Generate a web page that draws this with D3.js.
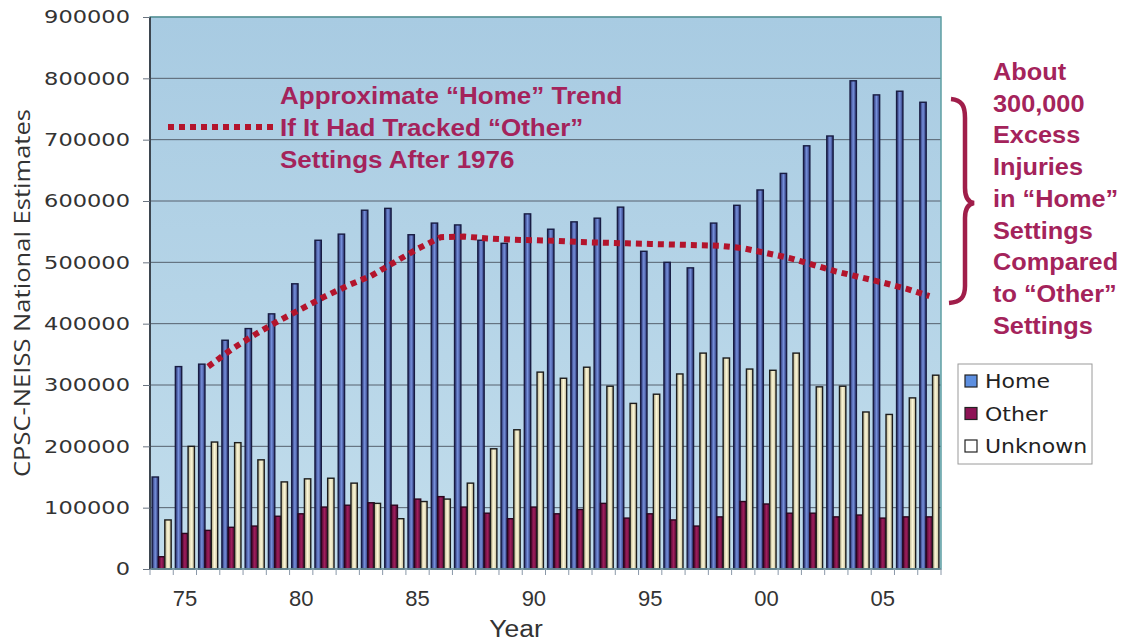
<!DOCTYPE html>
<html>
<head>
<meta charset="utf-8">
<script src="https://cdn.jsdelivr.net/npm/d3@7"></script>
<style>
  body { margin: 0; background: #fff; }
</style>
</head>
<body>
<div class="chart"></div>
<script>
// Data
var years = [1974, 1975, 1976, 1977, 1978, 1979, 1980, 1981, 1982, 1983, 1984,
  1985, 1986, 1987, 1988, 1989, 1990, 1991, 1992, 1993, 1994, 1995, 1996, 1997,
  1998, 1999, 2000, 2001, 2002, 2003, 2004, 2005, 2006, 2007];
var home = [150000, 330000, 334000, 373000, 392000, 416000, 465000, 536000, 546000,
  585000, 588000, 545000, 564000, 561000, 536000, 531000, 579000, 554000, 566000,
  572000, 590000, 518000, 500000, 491000, 564000, 593000, 618000, 645000, 690000,
  706000, 796000, 773000, 779000, 761000];
var other = [20000, 58000, 63000, 68000, 70000, 86000, 90000, 101000, 104000, 108000,
  104000, 114000, 118000, 101000, 91000, 82000, 101000, 90000, 97000, 107000, 83000,
  90000, 80000, 70000, 85000, 110000, 106000, 91000, 91000, 85000, 88000, 83000,
  85000, 85000];
var unknown = [80000, 200000, 207000, 206000, 178000, 142000, 147000, 148000, 140000,
  107000, 82000, 110000, 114000, 140000, 196000, 227000, 321000, 311000, 329000,
  298000, 270000, 285000, 318000, 352000, 344000, 326000, 324000, 352000, 297000,
  298000, 256000, 252000, 279000, 316000];
var trendYears = [1976, 1977, 1978, 1979, 1980, 1981, 1982, 1983, 1984, 1985, 1986,
  1987, 1988, 1989, 1990, 1991, 1992, 1993, 1994, 1995, 1996, 1997, 1998, 1999,
  2000, 2001, 2002, 2003, 2004, 2005, 2006, 2007];
var trend = [330000, 358000, 382000, 404000, 424000, 444000, 462000, 478000, 500000,
  522000, 541000, 542000, 539000, 537000, 536000, 535000, 533000, 532000, 531000,
  530000, 529000, 528000, 527000, 523000, 515000, 507000, 496000, 485000, 476000,
  467000, 457000, 445000];
var yTicks = [0, 100000, 200000, 300000, 400000, 500000, 600000, 700000, 800000, 900000];
var xLabelYears = [1975, 1980, 1985, 1990, 1995, 2000, 2005];
var seriesNames = ["Home", "Other", "Unknown"];
var trendNote = ["Approximate \u201cHome\u201d Trend", "If It Had Tracked \u201cOther\u201d", "Settings After 1976"];
var sideNote = ["About", "300,000", "Excess", "Injuries", "in \u201cHome\u201d", "Settings",
  "Compared", "to \u201cOther\u201d", "Settings"];

var svgWidth = 1123;
var svgHeight = 642;
var plot = { left: 150, right: 941, top: 17, bottom: 569 };

var svg = d3.select(".chart")
  .append("svg")
  .attr("width", svgWidth)
  .attr("height", svgHeight);

// stretch text horizontally, the source picture is a bit wide
function widen(sel, k) {
  sel.each(function() {
    var len = this.getComputedTextLength();
    d3.select(this).attr("textLength", len * k).attr("lengthAdjust", "spacingAndGlyphs");
  });
}

var defs = svg.append("defs");
var bg = defs.append("linearGradient").attr("id", "bg").attr("x1", 0).attr("y1", 0).attr("x2", 0).attr("y2", 1);
bg.append("stop").attr("offset", "0%").attr("stop-color", "#a8cbe2");
bg.append("stop").attr("offset", "100%").attr("stop-color", "#c2ddec");

var barColors = {
  Home: ["#252d68", "#7690dc", "#283270"],
  Other: ["#46082e", "#a01e5d", "#4a0930"],
  Unknown: ["#b3ab86", "#fcf7d8", "#c2ba96"]
};
var barStroke = { Home: "#181c42", Other: "#2a061e", Unknown: "#1c1c1c" };
seriesNames.forEach(function(s) {
  var g = defs.append("linearGradient").attr("id", "g" + s);
  g.append("stop").attr("offset", "0%").attr("stop-color", barColors[s][0]);
  g.append("stop").attr("offset", "50%").attr("stop-color", barColors[s][1]);
  g.append("stop").attr("offset", "100%").attr("stop-color", barColors[s][2]);
});

// scales
var xAll = d3.scaleBand().domain(years).range([plot.left, plot.right]);
var x0 = d3.scaleBand().domain(years).range([plot.left, plot.right])
  .paddingInner(0.18).paddingOuter(0.09);
var x1 = d3.scaleBand().domain(seriesNames).range([0, x0.bandwidth()]);
var y = d3.scaleLinear().domain([0, 900000]).range([plot.bottom, plot.top]);

// plot background
svg.append("rect")
  .attr("x", plot.left).attr("y", plot.top)
  .attr("width", plot.right - plot.left).attr("height", plot.bottom - plot.top)
  .attr("fill", "url(#bg)");

// gridlines
svg.append("g").selectAll("line")
  .data(yTicks.filter(d => d > 0))
  .enter().append("line")
  .attr("x1", plot.left).attr("x2", plot.right)
  .attr("y1", d => y(d)).attr("y2", d => y(d))
  .attr("stroke", "#56616e").attr("stroke-width", 1);

// bars
var rows = years.map(function(yr, i) {
  return { year: yr, Home: home[i], Other: other[i], Unknown: unknown[i] };
});
var groups = svg.append("g").selectAll("g")
  .data(rows)
  .enter().append("g")
  .attr("transform", d => `translate(${x0(d.year)},0)`);
groups.selectAll("rect")
  .data(d => seriesNames.map(s => ({ key: s, value: d[s] })))
  .enter().append("rect")
  .attr("x", d => x1(d.key))
  .attr("y", d => y(d.value))
  .attr("width", x1.bandwidth())
  .attr("height", d => y(0) - y(d.value))
  .attr("fill", d => `url(#g${d.key})`)
  .attr("stroke", d => barStroke[d.key])
  .attr("stroke-width", 1.4);

// plot frame
svg.append("rect")
  .attr("x", plot.left).attr("y", plot.top)
  .attr("width", plot.right - plot.left).attr("height", plot.bottom - plot.top)
  .attr("fill", "none").attr("stroke", "#5e9fa2").attr("stroke-width", 1.5);
svg.append("line")
  .attr("x1", plot.left).attr("x2", plot.left)
  .attr("y1", plot.top).attr("y2", plot.bottom)
  .attr("stroke", "#3d4650").attr("stroke-width", 2);
svg.append("line")
  .attr("x1", plot.left).attr("x2", plot.right)
  .attr("y1", plot.bottom).attr("y2", plot.bottom)
  .attr("stroke", "#6f7f90").attr("stroke-width", 1.2);

// y axis
var yAxis = svg.append("g")
  .attr("transform", `translate(${plot.left},0)`)
  .call(d3.axisLeft(y).tickValues(yTicks).tickSize(7).tickPadding(13).tickFormat(d3.format("d")));
yAxis.select(".domain").remove();
yAxis.selectAll("line").attr("stroke", "#6a7480");
yAxis.selectAll("text")
  .attr("font-family", "DejaVu Sans").attr("font-size", "18px").attr("fill", "#333");
widen(yAxis.selectAll("text"), 1.25);

// x axis: ticks on category boundaries, labels every five years
svg.append("g").selectAll("line")
  .data(years.concat(["end"]))
  .enter().append("line")
  .attr("x1", d => d === "end" ? plot.right : xAll(d))
  .attr("x2", d => d === "end" ? plot.right : xAll(d))
  .attr("y1", plot.bottom).attr("y2", plot.bottom + 6)
  .attr("stroke", "#8a98a8");
var xAxis = svg.append("g")
  .attr("transform", `translate(0,${plot.bottom})`)
  .call(d3.axisBottom(xAll).tickValues(xLabelYears).tickSize(0).tickPadding(21)
    .tickFormat(d => String(d).slice(2)));
xAxis.select(".domain").remove();
xAxis.selectAll("text")
  .attr("font-family", "Liberation Sans").attr("font-size", "22px").attr("fill", "#333");

// axis titles
svg.append("text")
  .attr("transform", "translate(22,293) rotate(-90)")
  .attr("text-anchor", "middle")
  .attr("dominant-baseline", "central")
  .attr("font-family", "Open Sans").attr("font-size", "21px").attr("fill", "#333")
  .attr("textLength", 368).attr("lengthAdjust", "spacingAndGlyphs")
  .text("CPSC-NEISS National Estimates");
var yearTitle = svg.append("text")
  .attr("x", 516).attr("y", 637)
  .attr("text-anchor", "middle")
  .attr("font-family", "Liberation Sans").attr("font-size", "23px").attr("fill", "#333")
  .text("Year");
widen(yearTitle, 1.15);

// trend line
var trendLine = d3.line()
  .x(d => xAll(d.year) + xAll.bandwidth() / 2)
  .y(d => y(d.value));
var trendPts = trendYears.map((yr, i) => ({ year: yr, value: trend[i] }));
svg.append("path")
  .datum(trendPts)
  .attr("d", trendLine)
  .attr("fill", "none")
  .attr("stroke", "#b3142c")
  .attr("stroke-width", 6)
  .attr("stroke-dasharray", "6,5");

// trend note with its dotted sample
svg.append("line")
  .attr("x1", 168).attr("x2", 273).attr("y1", 127).attr("y2", 127)
  .attr("stroke", "#b3142c").attr("stroke-width", 6).attr("stroke-dasharray", "6,5");
var noteText = svg.append("g").selectAll("text")
  .data(trendNote)
  .enter().append("text")
  .attr("x", 280)
  .attr("y", (d, i) => 104 + i * 32)
  .attr("font-family", "Liberation Sans").attr("font-weight", "bold")
  .attr("font-size", "23px").attr("fill", "#a4235b")
  .text(d => d);
widen(noteText, 1.13);

// brace and side note
svg.append("path")
  .attr("d", "M951,99 C962,100 965,106 965,118 L965,188 C965,197 968,202 974,203 C968,204 965,209 965,218 L965,286 C965,297 961,302 949,303")
  .attr("fill", "none").attr("stroke", "#a01e4a").attr("stroke-width", 4.5);
var sideText = svg.append("g").selectAll("text")
  .data(sideNote)
  .enter().append("text")
  .attr("x", 993)
  .attr("y", (d, i) => 80 + i * 31.7)
  .attr("font-family", "Liberation Sans").attr("font-weight", "bold")
  .attr("font-size", "23px").attr("fill", "#a4235b")
  .text(d => d);
widen(sideText, 1.1);

// legend
var legend = svg.append("g").attr("transform", "translate(958,364)");
legend.append("rect")
  .attr("width", 134).attr("height", 100)
  .attr("fill", "#fff").attr("stroke", "#9a9a9a");
var swatch = { Home: "#5d8fe0", Other: "#8e1456", Unknown: "#ffffff" };
var items = legend.selectAll(".item")
  .data(seriesNames)
  .enter().append("g")
  .attr("class", "item")
  .attr("transform", (d, i) => `translate(7,${17 + i * 32.5})`);
items.append("rect")
  .attr("x", 0).attr("y", -6).attr("width", 12).attr("height", 12)
  .attr("fill", d => swatch[d]).attr("stroke", "#222").attr("stroke-width", 1.2);
var legendText = items.append("text")
  .attr("x", 20).attr("y", 7)
  .attr("font-family", "DejaVu Sans").attr("font-size", "20px").attr("fill", "#222")
  .text(d => d);
widen(legendText, 1.1);
</script>
</body>
</html>
